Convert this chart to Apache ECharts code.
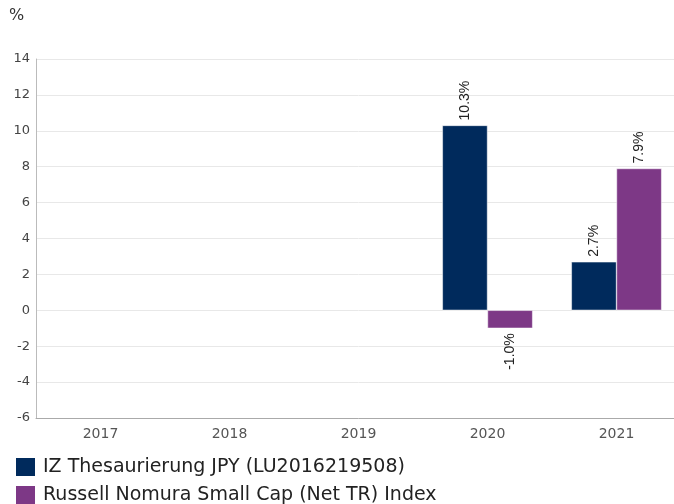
<!DOCTYPE html>
<html><head><meta charset="utf-8">
<script src="https://cdn.jsdelivr.net/npm/echarts@6/dist/echarts.min.js"></script>
<style>html,body{margin:0;padding:0;background:#fff;overflow:hidden}#c{width:681px;height:504px}</style>
</head><body><div id="c"></div>
<script>
const categories = ['2017','2018','2019','2020','2021'];
const fundValues = [null, null, null, 10.3, 2.7];
const indexValues = [null, null, null, -1.0, 7.9];
const seriesNames = ['IZ Thesaurierung JPY (LU2016219508)', 'Russell Nomura Small Cap (Net TR) Index'];
const yTicks = { min: -6, max: 14, interval: 2 };

const chart = echarts.init(document.getElementById('c'));
const lbl = {
  show: true, rotate: 90, fontSize: 14, color: '#222', fontFamily: 'Arial, Liberation Sans, sans-serif',
  formatter: p => p.value.toFixed(1) + '%'
};
function mk(name, vals, color) {
  return {
    name, type: 'bar', barGap: '0%', barCategoryGap: '30%',
    itemStyle: { color, borderColor: '#fff', borderWidth: 0.5 },
    data: vals.map(v => v === null ? null : {
      value: v,
      label: Object.assign({}, lbl, v >= 0 ? { position: 'top', align: 'left', verticalAlign: 'middle' } : { position: 'bottom', align: 'right', verticalAlign: 'middle' })
    })
  };
}
const dv = 'DejaVu Sans, sans-serif';
chart.setOption({
  animation: false,
  textStyle: { fontFamily: dv },
  title: { text: '%', left: 9, top: 8, padding: 0, textStyle: { fontSize: 16, fontWeight: 'normal', color: '#333', fontFamily: dv } },
  grid: { left: 36, right: 0, top: 59, bottom: 86, containLabel: false },
  legend: {
    orient: 'vertical', left: 14, top: 456, height: 60, padding: 0, itemWidth: 21, itemHeight: 20, itemGap: 6,
    icon: 'rect', textStyle: { fontSize: 19, color: '#222', fontFamily: dv, padding: [0,0,0,2] },
    data: seriesNames
  },
  xAxis: {
    type: 'category', data: categories,
    axisLine: { onZero: false, lineStyle: { color: '#aaa' } }, axisTick: { show: false },
    axisLabel: { fontSize: 14, color: '#555', margin: 9, fontFamily: dv }
  },
  yAxis: {
    type: 'value', min: yTicks.min, max: yTicks.max, interval: yTicks.interval,
    axisLine: { show: true, lineStyle: { color: '#bbb' } },
    axisLabel: { fontSize: 13, color: '#444', margin: 6, fontFamily: dv },
    splitLine: { lineStyle: { color: '#e8e8e8' } }
  },
  series: [mk(seriesNames[0], fundValues, '#002a5c'), mk(seriesNames[1], indexValues, '#7d3886')]
});
</script></body></html>
